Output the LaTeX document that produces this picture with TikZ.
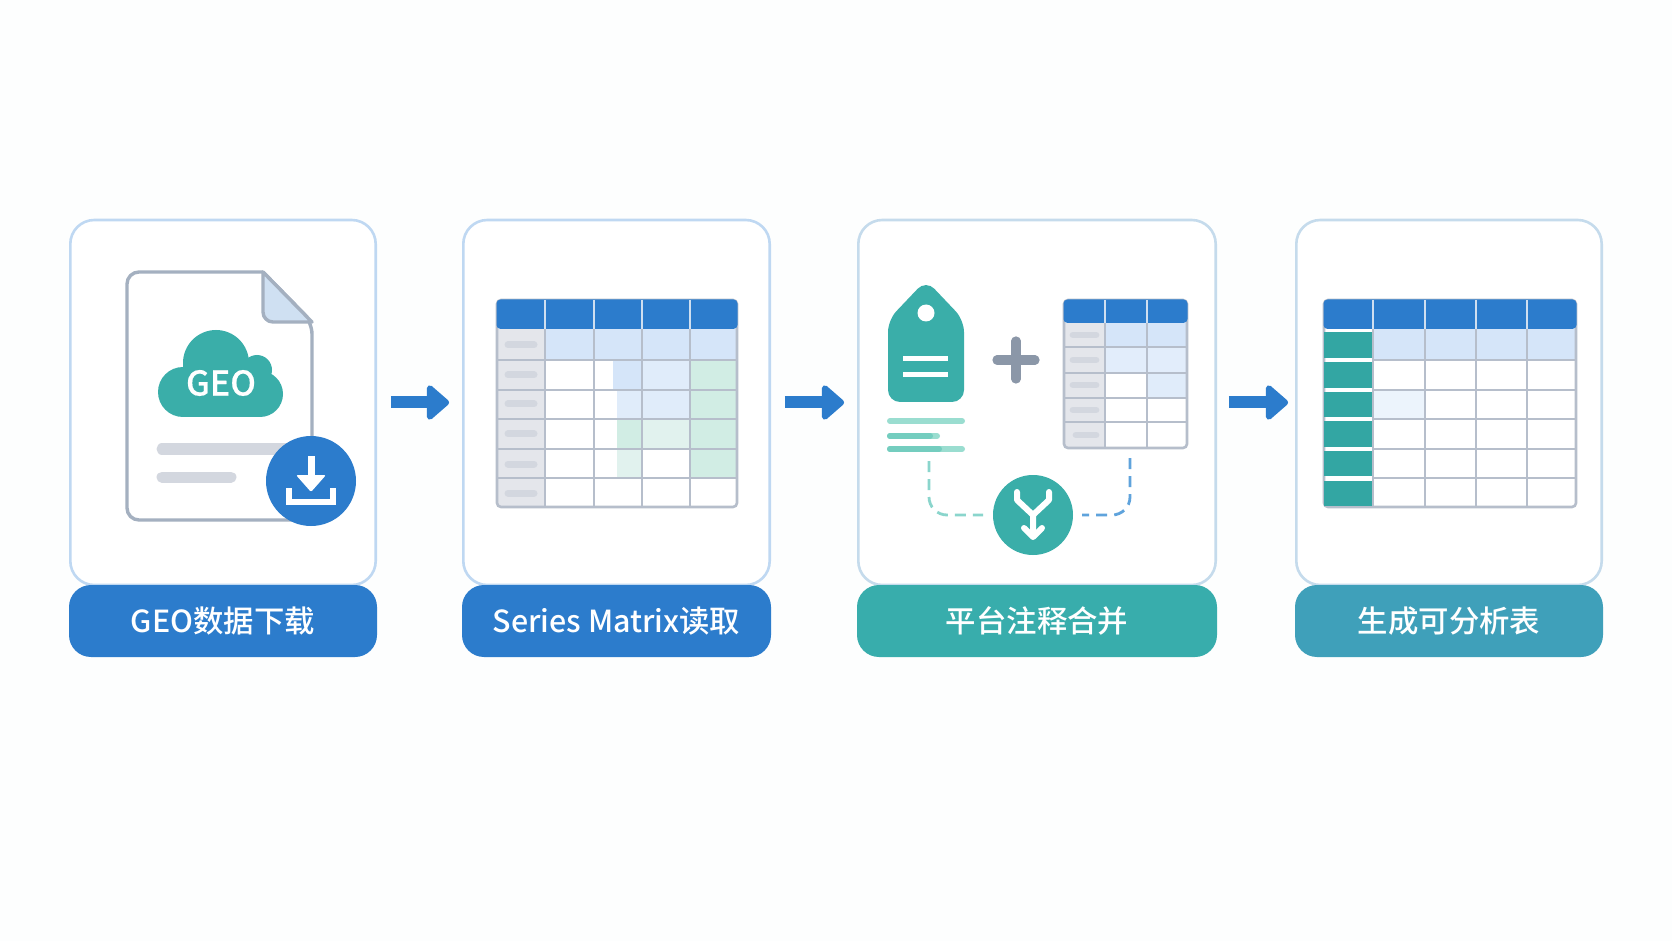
\documentclass[tikz,border=0pt]{standalone}
\usepackage{fontspec}
\setmainfont{Noto Sans CJK SC Medium}
\usetikzlibrary{arrows.meta}
\definecolor{bgc}{HTML}{FDFEFE}
\definecolor{blue1}{HTML}{2C7CCC}
\definecolor{teal1}{HTML}{3AAEA9}
\definecolor{teal2}{HTML}{38ADAC}
\definecolor{teal3}{HTML}{3FA0BA}
\definecolor{teal4}{HTML}{33A6A3}
\definecolor{cardb}{HTML}{BFD8F2}
\definecolor{cardc}{HTML}{C5DBEC}
\definecolor{gridc}{HTML}{B6BECB}
\definecolor{docc}{HTML}{A4B0C0}
\definecolor{foldc}{HTML}{CFE0F2}
\definecolor{pillc}{HTML}{D3D7DF}
\definecolor{rowc}{HTML}{E4E6EB}
\definecolor{tintb}{HTML}{D5E5F9}
\definecolor{tintc}{HTML}{E0ECFA}
\definecolor{tintg}{HTML}{D1EDE4}
\definecolor{tinth}{HTML}{E1F2EE}
\definecolor{linec}{HTML}{9ADDD0}
\definecolor{lined}{HTML}{74CDBF}
\definecolor{plusc}{HTML}{8B97A8}
\definecolor{dashl}{HTML}{8AD5CC}
\definecolor{dashr}{HTML}{5FA3DC}
\definecolor{headl}{HTML}{CFDFF0}
\tikzset{
  card/.style={draw,fill=white,line width=1.3pt,rounded corners=12pt,inner sep=0pt,outer sep=0pt,minimum height=182.5pt},
  caption/.style={rounded corners=11pt,inner sep=0pt,outer sep=0pt,minimum height=36pt,text=white,font=\fontsize{15.2pt}{18pt}\selectfont},
  flow/.style={draw=blue1,line width=6pt,shorten <=7.6pt,shorten >=7.1pt,-{Triangle[length=12pt,width=20pt,round]}},
  gridl/.style={draw=gridc,line width=1.3pt},
  headl/.style={draw=headl,line width=1.1pt},
  pill/.style={draw=pillc,line width=3.5pt,line cap=round},
  whitel/.style={draw=white,line cap=round,line join=round},
  badge/.style={circle,inner sep=0pt,outer sep=0pt},
  dashl/.style={line width=1.4pt,dash pattern=on 5.5pt off 3.5pt,rounded corners=9pt}
}
\begin{document}
\begin{tikzpicture}[x=0.5pt,y=-0.5pt]
\fill[bgc] (0,0) rectangle (1672,941);
\useasboundingbox (0,0) rectangle (1672,941);

% cards
\node[card,draw=cardb,minimum width=152.7pt] (c1) at (223,402.5) {};
\node[card,draw=cardb,minimum width=153.2pt] (c2) at (616.5,402.5) {};
\node[card,draw=cardc,minimum width=178.7pt] (c3) at (1037,402.5) {};
\node[card,draw=cardc,minimum width=152.7pt] (c4) at (1449,402.5) {};
\node[caption,fill=blue1,minimum width=154pt] (l1) at (223,621) {GEO数据下载};
\node[caption,fill=blue1,minimum width=154.5pt] (l2) at (616.5,621) {Series Matrix读取};
\node[caption,fill=teal2,minimum width=180pt] (l3) at (1037,621) {平台注释合并};
\node[caption,fill=teal3,minimum width=154pt] (l4) at (1449,621) {生成可分析表};

% flow arrows
\draw[flow] (c1.east) -- (c2.west);
\draw[flow] (c2.east) -- (c3.west);
\draw[flow,shorten <=6.6pt,shorten >=4.1pt] (c3.east) -- (c4.west);

% document icon
\draw[docc,fill=white,line width=1.7pt,line join=round,rounded corners=6pt]
  (263,272) -- (127,272) -- (127,520) -- (312,520) -- (312,322) {[sharp corners] -- (263,272)};
\draw[docc,fill=foldc,line width=1.7pt,line join=round]
  (263,272) [rounded corners=5pt] -- (263,322) [sharp corners] -- (312,322) -- cycle;
\fill[teal1] (216,363) circle (33);
\fill[teal1] (183,392) circle (25);
\fill[teal1] (260,394) circle (23);
\fill[teal1] (257,370) circle (15);
\fill[teal1] (183,385) rectangle (260,417);
\node[text=white,inner sep=0pt,font=\fontsize{17pt}{20pt}\selectfont\addfontfeature{FakeBold=0.5}] (geo) at (221,383) {GEO};
\draw[draw=pillc,line width=5.5pt,line cap=round] (162,449) -- (290,449);
\draw[draw=pillc,line width=5.5pt,line cap=round] (162,477) -- (231,477);
\node[badge,fill=blue1,minimum size=45pt] (dl) at (311,481) {};
\draw[whitel,line width=3.5pt,line cap=butt] (311,456) -- (311,482);
\fill[white,rounded corners=1pt] (296,475) -- (326,475) -- (311,492) -- cycle;
\draw[whitel,line width=2.6pt,line cap=butt,line join=miter] (289,488) -- (289,502) -- (333,502) -- (333,488);

% table 2
\fill[white,rounded corners=2pt] (497,300) rectangle (737,507);
\fill[rowc] (497,329) rectangle (545,507);
\fill[tintb] (545,329) rectangle (737,360);
\fill[tintb] (613,360) rectangle (642,390);
\fill[tintc] (642,360) rectangle (690,390);
\fill[tintc] (617,390) rectangle (642,419);
\fill[tintc] (642,390) rectangle (690,419);
\fill[tintg] (690,360) rectangle (737,478);
\fill[tintg] (617,419) rectangle (642,449);
\fill[tinth] (642,419) rectangle (690,449);
\fill[tinth] (617,449) rectangle (642,478);
\foreach \y in {345,375,404,434,464,493} \draw[pill] (508,\y) -- (534,\y);
\foreach \x in {545,594,642,690} \draw[gridl] (\x,329) -- (\x,507);
\foreach \y in {360,390,419,449,478} \draw[gridl] (497,\y) -- (737,\y);
\draw[gridl,rounded corners=2pt] (497,300) rectangle (737,507);
\fill[blue1,rounded corners=2pt] (496.5,299.5) rectangle (737.5,329);
\foreach \x in {545,594,642,690} \draw[headl] (\x,300) -- (\x,329);

% tag icon
\fill[teal1,rounded corners=6pt] (926,280) -- (964,320) -- (964,402) -- (888,402) -- (888,320) -- cycle;
\fill[white] (926,313) circle (8.5);
\draw[whitel,line width=2.5pt,line cap=butt] (903,359) -- (948,359);
\draw[whitel,line width=2.5pt,line cap=butt] (903,375) -- (948,375);
\draw[draw=linec,line width=3pt,line cap=round] (890,421) -- (962,421);
\draw[draw=linec,line width=3pt,line cap=round] (890,436) -- (937,436);
\draw[draw=lined,line width=3pt,line cap=round] (890,436) -- (930,436);
\draw[draw=linec,line width=3pt,line cap=round] (890,449) -- (962,449);
\draw[draw=lined,line width=3pt,line cap=round] (890,449) -- (939,449);
\draw[draw=plusc,line width=4.6pt,line cap=round] (997,360) -- (1035,360);
\draw[draw=plusc,line width=4.6pt,line cap=round] (1016,341) -- (1016,379);

% table 3
\fill[white,rounded corners=2pt] (1064,300) rectangle (1187,448);
\fill[rowc] (1064,323) rectangle (1105,448);
\fill[tintb] (1105,323) rectangle (1187,347);
\fill[tintb!70!white] (1105,347) rectangle (1187,373);
\fill[tintc] (1147,373) rectangle (1187,398);
\foreach \y/\a in {335/1071,360/1071,385/1071,410/1071,435/1074} \draw[pill,line width=3.4pt] (\a+2,\y) -- (1096,\y);
\foreach \x in {1105,1147} \draw[gridl] (\x,323) -- (\x,448);
\foreach \y in {347,373,398,422} \draw[gridl] (1064,\y) -- (1187,\y);
\draw[gridl,rounded corners=2pt] (1064,300) rectangle (1187,448);
\fill[blue1,rounded corners=2pt] (1063.5,299.5) rectangle (1187.5,323);
\foreach \x in {1105,1147} \draw[headl] (\x,300) -- (\x,323);

% merge
\node[badge,fill=teal1,minimum size=40pt] (merge) at (1033,515) {};
\coordinate (ms) at (929,461);
\coordinate (me) at (1130,458);
\draw[dashl,draw=dashl,shorten >=5pt] (ms) |- (merge.west);
\draw[dashl,draw=dashr,shorten >=4.5pt] (me) |- (merge.east);
\draw[whitel,line width=3pt,line join=round] (1017,492) -- (1017,500) -- (1033,515) -- (1033,535);
\draw[whitel,line width=3pt,line join=round] (1049,492) -- (1049,500) -- (1033,515);
\draw[whitel,line width=3pt] (1024,528) -- (1033,537) -- (1042,528);

% table 4
\fill[white,rounded corners=2pt] (1324,300) rectangle (1576,507);
\fill[tintb] (1373,329) rectangle (1576,360);
\fill[tintc!60!white] (1373,390) rectangle (1425,419);
\foreach \x in {1425,1476,1527,1373} \draw[gridl] (\x,329) -- (\x,507);
\foreach \y in {360,390,419,449,478} \draw[gridl] (1373,\y) -- (1576,\y);
\draw[gridl,rounded corners=2pt] (1324,300) rectangle (1576,507);
\fill[blue1,rounded corners=2pt] (1323.5,299.5) rectangle (1576.5,329);
\foreach \x in {1373,1425,1476,1527} \draw[headl] (\x,300) -- (\x,329);
\foreach \a/\b in {332/358,362/388,392/417,421/447,451/476,481/506} \fill[teal4] (1324,\a) rectangle (1372,\b);
\end{tikzpicture}
\end{document}
